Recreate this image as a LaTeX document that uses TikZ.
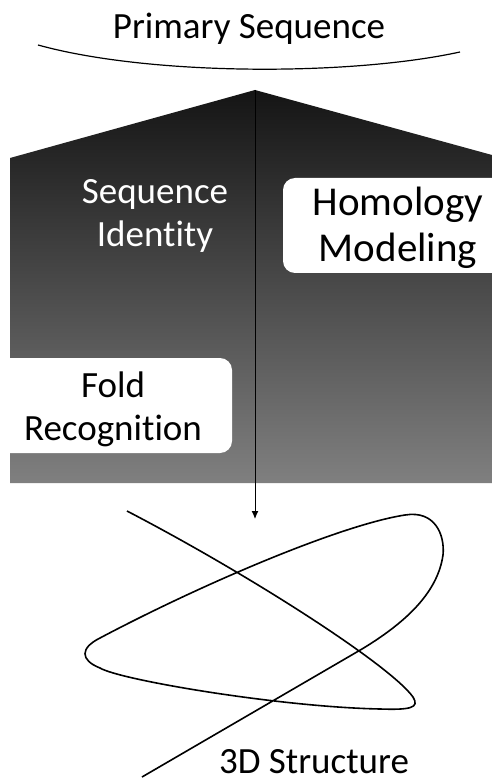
\documentclass[tikz,border=0pt]{standalone}
\usepackage{fontspec}
\setmainfont{Carlito}[Ligatures=NoCommon]
\usetikzlibrary{arrows.meta}

\begin{document}
\begin{tikzpicture}[x=0.5pt, y=-0.5pt,
  lbl/.style={font=\fontsize{18.5}{21.5}\selectfont, align=center, inner sep=0pt},
  bigl/.style={font=\fontsize{20.5}{23}\selectfont, align=center, inner sep=0pt},
  card/.style={fill=white}]
  \useasboundingbox (0,0) rectangle (492,780);

  % funnel, dark at the top and lighter below
  \shade[top color=black!92, bottom color=black!50]
    (10,158) -- (255,90) -- (492,155) -- (492,483) -- (10,483) -- cycle;

  % white cards, rounded only on the inner side
  \fill[card] (492,178) [rounded corners=6pt] -- (283,178) -- (283,273) [sharp corners] -- (492,273) -- cycle;
  \fill[card] (10,358) [rounded corners=6pt] -- (232,358) -- (232,453) [sharp corners] -- (10,453) -- cycle;

  \node[lbl, anchor=base] (prim) at (249,39) {Primary Sequence};
  \draw[line width=0.6pt] (38,45) .. controls (150,76) and (350,76) .. (460,52);

  \node[lbl, text=white] (ident) at (155,216) {Sequence\\Identity};
  \node[bigl] (homol) at (398,228) {Homology\\Modeling};
  \node[lbl] (fold) at (113,409) {Fold\\Recognition};

  \coordinate (apex) at (255,90);
  \coordinate (tip) at (255,519);
  \draw[line width=0.5pt, -{Latex[length=4pt,width=3.5pt]}] (apex) -- (tip);

  % the folded chain
  \draw[line width=0.8pt] (127,511) .. controls (250,575) and (390,665) .. (413,697)
    .. controls (420,708) and (410,710) .. (380,709)
    .. controls (280,707) and (120,680) .. (100,668)
    .. controls (80,660) and (80,648) .. (100,638)
    .. controls (200,585) and (340,525) .. (405,515)
    .. controls (435,510) and (445,535) .. (443,555)
    .. controls (438,590) and (410,620) .. (362,649) -- (142,777);

  \node[lbl, anchor=base] (struct) at (314,773) {3D Structure};
\end{tikzpicture}
\end{document}
